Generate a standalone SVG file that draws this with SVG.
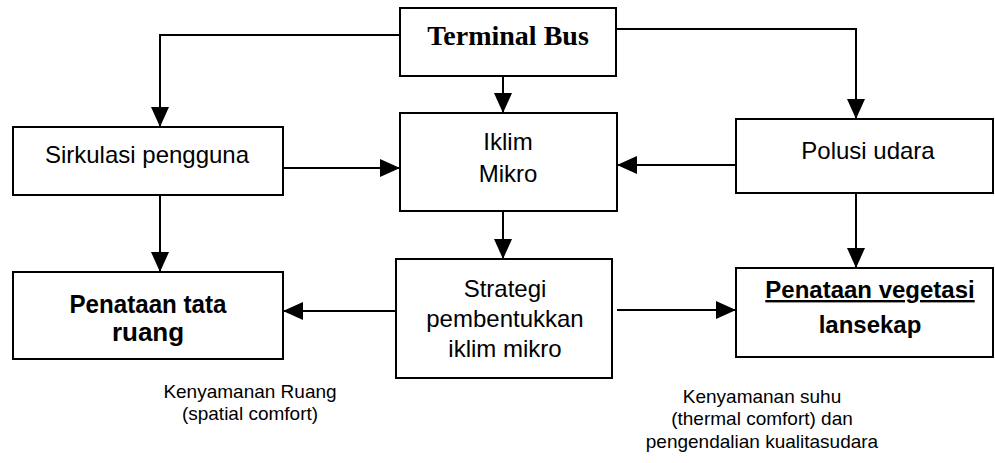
<svg xmlns="http://www.w3.org/2000/svg" width="995" height="463" viewBox="0 0 995 463">
<defs>
<style>
.box{fill:#fff;stroke:#000;stroke-width:2}
.ln{fill:none;stroke:#000;stroke-width:2;marker-end:url(#ah)}
.t{font-family:"Liberation Sans",Arial,sans-serif;font-size:24px;fill:#000;text-anchor:middle}
.b{font-weight:bold}
.s{font-family:"Liberation Sans",Arial,sans-serif;font-size:19px;fill:#000;text-anchor:middle}
.tb{font-family:"Liberation Serif","Times New Roman",serif;font-size:28px;font-weight:bold;fill:#000;text-anchor:middle}
</style>
<marker id="ah" markerUnits="userSpaceOnUse" markerWidth="20" markerHeight="18" refX="20" refY="9" orient="auto">
<path d="M0,0 L20,9 L0,18 z" fill="#000"/>
</marker>
</defs>
<rect width="995" height="463" fill="#fff"/>
<g id="connectors">
<path class="ln" d="M400,35 H160 V127"/>
<path class="ln" d="M616,29 H856 V119"/>
<path class="ln" d="M503,76 V113"/>
<path class="ln" d="M283,168 H400"/>
<path class="ln" d="M736,165 H617"/>
<path class="ln" d="M503,211 V259"/>
<path class="ln" d="M160,195 V272"/>
<path class="ln" d="M856,193 V268"/>
<path class="ln" d="M400,311 H283"/>
<path class="ln" d="M617,310 H736"/>
</g>
<g id="terminal">
<rect class="box" x="400" y="8" width="216" height="68"/>
<text class="tb" x="508" y="45">Terminal Bus</text>
</g>
<g id="sirkulasi">
<rect class="box" x="13" y="127" width="270" height="68"/>
<text class="t" x="147" y="163">Sirkulasi pengguna</text>
</g>
<g id="iklim">
<rect class="box" x="400" y="113" width="217" height="98"/>
<text class="t" x="508" y="150">Iklim</text>
<text class="t" x="508" y="182">Mikro</text>
</g>
<g id="polusi">
<rect class="box" x="736" y="119" width="257" height="74"/>
<text class="t" x="868" y="159">Polusi udara</text>
</g>
<g id="penataan-ruang">
<rect class="box" x="13" y="272" width="270" height="87"/>
<text class="t b" x="148" y="313" textLength="157" lengthAdjust="spacingAndGlyphs" style="font-size:26px">Penataan tata</text>
<text class="t b" x="148" y="341" style="font-size:26px">ruang</text>
</g>
<g id="strategi">
<rect class="box" x="396" y="259" width="216" height="119"/>
<text class="t" x="505" y="297">Strategi</text>
<text class="t" x="505" y="327">pembentukkan</text>
<text class="t" x="505" y="357">iklim mikro</text>
</g>
<g id="vegetasi">
<rect class="box" x="736" y="268" width="257" height="89"/>
<text class="t b" x="870" y="298" text-decoration="underline">Penataan vegetasi</text>
<text class="t b" x="870" y="333">lansekap</text>
</g>
<g id="notes">
<text class="s" x="250" y="398">Kenyamanan Ruang</text>
<text class="s" x="250" y="420">(spatial comfort)</text>
<text class="s" x="762" y="403">Kenyamanan suhu</text>
<text class="s" x="762" y="425">(thermal comfort) dan</text>
<text class="s" x="762" y="448">pengendalian kualitasudara</text>
</g>
</svg>
